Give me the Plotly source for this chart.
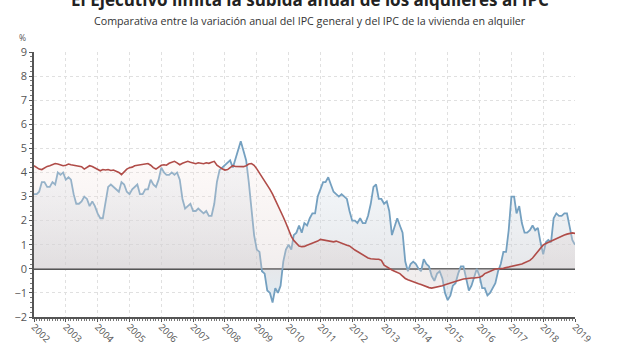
import pandas as pd
import plotly.graph_objects as go

# ---- Data (monthly, Jan 2002 .. Jan 2019) ----
start_month = "2002-01-01"
n_months = 205

year_ticks = [str(y) for y in range(2002, 2020)]
y_ticks = [-2, -1, 0, 1, 2, 3, 4, 5, 6, 7, 8, 9]

ipc_general = [
    3.1, 3.1, 3.2, 3.6, 3.6, 3.4, 3.4, 3.6, 3.5, 4.0, 3.9, 4.0,
    3.7, 3.8, 3.7, 3.1, 2.7, 2.7, 2.8, 3.0, 2.9, 2.6, 2.8, 2.6,
    2.3, 2.1, 2.1, 2.7, 3.4, 3.5, 3.4, 3.3, 3.2, 3.6, 3.5, 3.2,
    3.1, 3.3, 3.4, 3.5, 3.1, 3.1, 3.3, 3.3, 3.7, 3.5, 3.4, 3.7,
    4.2, 4.0, 3.9, 3.9, 4.0, 3.9, 4.0, 3.7, 2.9, 2.5, 2.6, 2.7,
    2.4, 2.4, 2.5, 2.4, 2.3, 2.4, 2.2, 2.2, 2.7, 3.6, 4.1, 4.2,
    4.3, 4.4, 4.5, 4.2, 4.6, 5.0, 5.3, 4.9, 4.5, 3.6, 2.4, 1.4,
    0.8, 0.7, -0.1, -0.2, -0.9, -1.0, -1.4, -0.8, -1.0, -0.7, 0.3, 0.8,
    1.0, 0.8, 1.4, 1.5, 1.8, 1.5, 1.9, 1.8, 2.1, 2.3, 2.3, 3.0,
    3.3, 3.6, 3.6, 3.8, 3.5, 3.2, 3.1, 3.0, 3.1, 3.0, 2.9, 2.4,
    2.0, 2.0, 1.9, 2.1, 1.9, 1.9, 2.2, 2.7, 3.4, 3.5, 2.9, 2.9,
    2.7, 2.8, 2.4, 1.4, 1.7, 2.1, 1.8, 1.5, 0.3, -0.1, 0.2, 0.3,
    0.2, 0.0, -0.1, 0.4, 0.2, 0.1, -0.3, -0.5, -0.2, -0.1, -0.4, -1.0,
    -1.3, -1.1, -0.7, -0.6, -0.2, 0.1, 0.1, -0.4, -0.9, -0.7, -0.3, 0.0,
    -0.3, -0.8, -0.8, -1.1, -1.0, -0.8, -0.6, -0.1, 0.2, 0.7, 0.7, 1.6,
    3.0, 3.0, 2.3, 2.6, 1.9, 1.5, 1.5, 1.6, 1.8, 1.6, 1.7, 1.1,
    0.6, 1.1, 1.2, 1.1, 2.1, 2.3, 2.2, 2.2, 2.3, 2.3, 1.7, 1.2,
    1.0,
]

ipc_alquiler = [
    4.28, 4.22, 4.14, 4.12, 4.20, 4.25, 4.28, 4.32, 4.37, 4.35, 4.30, 4.28,
    4.30, 4.35, 4.32, 4.30, 4.28, 4.25, 4.24, 4.14, 4.20, 4.28, 4.25, 4.19,
    4.12, 4.07, 4.12, 4.10, 4.12, 4.08, 4.10, 4.05, 4.00, 3.91, 4.05, 4.14,
    4.20, 4.22, 4.28, 4.30, 4.32, 4.33, 4.35, 4.37, 4.30, 4.20, 4.14, 4.22,
    4.30, 4.32, 4.30, 4.38, 4.42, 4.46, 4.40, 4.32, 4.38, 4.42, 4.46, 4.42,
    4.38, 4.36, 4.40, 4.38, 4.36, 4.40, 4.38, 4.42, 4.46, 4.30, 4.21, 4.15,
    4.10, 4.12, 4.20, 4.28, 4.25, 4.24, 4.22, 4.24, 4.28, 4.35, 4.37, 4.30,
    4.15, 3.98, 3.85, 3.68, 3.50, 3.30, 3.10, 2.87, 2.65, 2.40, 2.15, 1.90,
    1.60, 1.35, 1.18, 1.05, 0.95, 0.92, 0.93, 0.98, 1.02, 1.08, 1.12, 1.15,
    1.22, 1.20, 1.18, 1.15, 1.12, 1.12, 1.15, 1.10, 1.05, 1.00, 0.98, 0.95,
    0.85, 0.78, 0.72, 0.65, 0.60, 0.52, 0.45, 0.42, 0.40, 0.40, 0.40, 0.35,
    0.15, 0.07, 0.00, -0.05, -0.10, -0.15, -0.20, -0.30, -0.40, -0.45, -0.50, -0.55,
    -0.59, -0.62, -0.65, -0.70, -0.75, -0.78, -0.80, -0.78, -0.75, -0.72, -0.70, -0.66,
    -0.62, -0.58, -0.55, -0.52, -0.48, -0.45, -0.42, -0.40, -0.40, -0.38, -0.38, -0.38,
    -0.35, -0.30, -0.20, -0.15, -0.10, -0.05, -0.01, 0.00, 0.00, 0.02, 0.05, 0.07,
    0.10, 0.12, 0.15, 0.16, 0.20, 0.25, 0.30, 0.35, 0.45, 0.58, 0.70, 0.85,
    0.99, 1.05, 1.10, 1.15, 1.19, 1.25, 1.30, 1.35, 1.40, 1.44, 1.47, 1.49,
    1.47,
]

months = pd.date_range(start_month, periods=n_months, freq="MS")

title_text = "El Ejecutivo limita la subida anual de los alquileres al IPC"
subtitle_text = "Comparativa entre la variación anual del IPC general y del IPC de la vivienda en alquiler"

BLUE = "#74a0c0"
RED = "#b04c48"
FONT = "Open Sans"

fig = go.Figure()

fig.add_trace(go.Scatter(
    x=months, y=ipc_general, mode="lines", name="IPC general",
    line=dict(color=BLUE, width=1.8),
    fill="tozeroy",
    fillgradient=dict(
        type="vertical", start=-1.5, stop=5.3,
        colorscale=[[0, "rgba(200,224,240,0.55)"],
                    [0.22, "rgba(200,202,208,0.45)"],
                    [1, "rgba(220,235,246,0.25)"]],
    ),
))

fig.add_trace(go.Scatter(
    x=months, y=ipc_alquiler, mode="lines", name="IPC vivienda en alquiler",
    line=dict(color=RED, width=1.6),
    fill="tozeroy",
    fillgradient=dict(
        type="vertical", start=0, stop=4.5,
        colorscale=[[0, "rgba(215,205,205,0.35)"],
                    [1, "rgba(248,232,228,0.25)"]],
    ),
))

fig.update_layout(
    width=620, height=350,
    margin=dict(l=34, r=45, t=52, b=33, autoexpand=False),
    paper_bgcolor="white", plot_bgcolor="white",
    showlegend=False,
    font=dict(family=FONT, color="#555555", size=11),
    title=dict(
        text="<b>" + title_text + "</b>",
        x=0.5, xref="container", xanchor="center",
        y=1.0, yref="container", yanchor="middle",
        font=dict(family=FONT, size=17, color="#222222"),
    ),
    annotations=[
        dict(text=subtitle_text, xref="paper", yref="paper",
             x=(310 - 34) / 541, y=1 + (52 - 21) / 265.3,
             xanchor="center", yanchor="middle", showarrow=False,
             font=dict(family=FONT, size=10.7, color="#333333")),
        dict(text="%", xref="paper", yref="paper",
             x=(22 - 34) / 541, y=1 + (52 - 37) / 265.3,
             xanchor="center", yanchor="middle", showarrow=False,
             font=dict(family=FONT, size=8.5, color="#555555")),
    ],
    xaxis=dict(
        type="date",
        range=["2002-01-01", "2019-01-01"],
        tickvals=[pd.Timestamp(f"{y}-01-01") for y in year_ticks],
        ticktext=year_ticks,
        tickangle=45,
        ticklabelstandoff=-4,
        tickfont=dict(size=9.5, color="#555555"),
        showgrid=True, gridcolor="#e0e0e0", griddash="dot", gridwidth=1,
        showline=True, linecolor="#555555", linewidth=1.5,
        ticks="outside", ticklen=3, tickcolor="#555555",
        minor=dict(ticks="outside", ticklen=2, tickcolor="#777777", dtick="M1", showgrid=False),
        zeroline=False, automargin=False,
    ),
    yaxis=dict(
        range=[-2, 9],
        tickvals=y_ticks,
        tickfont=dict(size=11, color="#555555"),
        showgrid=True, gridcolor="#e0e0e0", griddash="dot", gridwidth=1,
        showline=True, linecolor="#555555", linewidth=1.5,
        ticks="outside", ticklen=3, tickcolor="#555555",
        minor=dict(ticks="outside", ticklen=2, tickcolor="#777777", dtick=0.2, showgrid=False),
        zeroline=True, zerolinecolor="#555555", zerolinewidth=2,
        automargin=False,
    ),
)

fig.write_html("out.html")
